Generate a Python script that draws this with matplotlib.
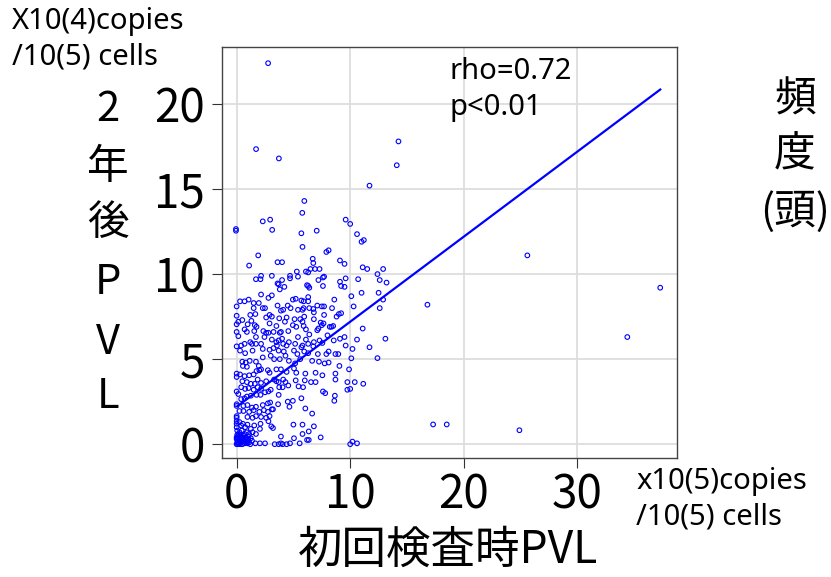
import numpy as np
import matplotlib
matplotlib.use("Agg")
import matplotlib.pyplot as plt

plt.rcParams['font.family'] = ['Noto Sans CJK JP', 'DejaVu Sans']
latin = ['Noto Sans', 'Noto Sans CJK JP']

# 初回検査時PVL (x10^5 copies/10^5 cells) vs 2年後PVL (x10^4 copies/10^5 cells)
pts_outlier = [(2.77, 22.4), (1.71, 17.35), (3.72, 16.8), (14.25, 17.8), (14.1, 16.4),
               (11.7, 15.2), (25.6, 11.1), (37.3, 9.2), (16.8, 8.2), (34.4, 6.3),
               (17.3, 1.16), (18.5, 1.16), (24.9, 0.82), (10.0, 0.0), (10.2, 0.15),
               (10.6, 0.05), (12.4, 5.06), (13.1, 6.2), (11.7, 5.7), (11.1, 6.8),
               (12.6, 8.0), (12.5, 8.9), (12.9, 8.5), (13.2, 9.5), (12.6, 9.65),
               (12.4, 10.0), (12.9, 10.3), (11.1, 10.4), (11.5, 10.3), (11.0, 8.9),
               (10.7, 9.7), (10.3, 8.1), (10.1, 8.7), (10.6, 12.35), (11.0, 11.9),
               (11.2, 12.0), (9.6, 13.2), (10.0, 12.95), (7.05, 12.55), (5.96, 14.3),
               (5.78, 13.6), (5.7, 12.4), (5.8, 11.6), (2.3, 13.1), (2.95, 13.2),
               (3.13, 12.6), (-0.06, 12.65), (-0.06, 12.55)]

pts_y10 = [(1.9, 11.1), (1.1, 10.5), (3.6, 10.7), (4.0, 10.7), (6.7, 10.9), (6.75, 10.65),
           (7.9, 11.3), (8.1, 11.4), (9.1, 10.8), (9.5, 10.6), (6.5, 10.3), (6.9, 10.3),
           (7.3, 10.3), (5.3, 10.15), (6.1, 10.15), (6.3, 10.1), (3.1, 9.9), (4.7, 9.9),
           (5.4, 9.85), (1.7, 9.7), (2.1, 9.7), (2.15, 9.9), (4.0, 9.65), (4.7, 9.75),
           (7.2, 9.65), (7.6, 9.8), (7.7, 9.85), (9.6, 9.75), (6.2, 9.35), (6.3, 9.3),
           (6.4, 9.2), (3.6, 9.45), (3.7, 9.4), (7.6, 9.3), (9.1, 9.55), (9.2, 9.3),
           (9.5, 9.25)]

pts_y8 = [(2.8, 8.6), (2.15, 8.8), (3.1, 8.75), (3.8, 9.1), (4.2, 9.25), (4.95, 8.5),
          (5.2, 8.55), (5.7, 8.45), (5.9, 8.4), (6.3, 8.65), (6.3, 8.4), (8.6, 8.5),
          (0.3, 8.4), (0.7, 8.4), (1.06, 8.5), (0.0, 8.1), (1.5, 8.3), (1.95, 8.3),
          (1.5, 8.0), (2.3, 8.0), (2.5, 8.0), (3.6, 8.15), (4.5, 8.15), (3.9, 7.85),
          (4.1, 7.9), (4.75, 8.0), (5.4, 7.9), (5.8, 7.9), (5.9, 8.0), (6.4, 8.0),
          (6.75, 7.95), (7.1, 8.15), (7.5, 8.1), (7.7, 8.1), (8.4, 8.0), (8.8, 7.5),
          (9.0, 7.65), (9.2, 7.7), (6.8, 7.75), (7.7, 7.6), (1.2, 7.6), (1.65, 7.65),
          (3.75, 7.4), (5.6, 7.35), (5.95, 7.5), (5.8, 7.2), (4.4, 7.45), (5.1, 7.35),
          (2.6, 7.45), (2.9, 7.6), (3.1, 7.5), (0.0, 7.55), (0.5, 7.3)]

pts_y6 = [(0.0, 7.05), (0.15, 7.2), (1.3, 7.25), (0.97, 7.05), (1.6, 7.0), (1.75, 6.9),
          (2.9, 7.1), (3.5, 6.95), (4.25, 7.2), (4.95, 7.0), (5.25, 6.9), (5.9, 6.95),
          (6.1, 6.75), (6.8, 7.35), (7.4, 7.15), (7.65, 7.1), (7.5, 7.0), (8.2, 6.9),
          (8.35, 6.9), (8.5, 6.95), (0.0, 6.6), (0.7, 6.75), (0.9, 6.6), (1.55, 6.65),
          (2.35, 6.65), (2.6, 6.55), (2.8, 6.55), (3.25, 6.6), (3.8, 6.55), (3.9, 6.6),
          (4.55, 6.65), (6.4, 6.45), (7.1, 6.7), (7.2, 6.8), (8.0, 6.4), (0.15, 6.35),
          (1.7, 6.3), (2.45, 6.3), (3.1, 6.15), (3.7, 6.1), (4.0, 6.2), (5.4, 6.3),
          (6.1, 6.15), (6.8, 6.0), (7.3, 6.1), (8.55, 6.1), (9.1, 6.2), (9.5, 6.3),
          (10.6, 6.15), (1.2, 6.0)]

pts_y5 = [(0.0, 5.75), (0.4, 5.8), (0.7, 5.9), (1.35, 5.9), (1.7, 5.9), (2.15, 5.9),
          (3.5, 6.0), (3.55, 5.8), (4.1, 5.9), (4.4, 5.8), (4.6, 6.0), (5.15, 5.9),
          (5.8, 5.8), (6.3, 5.9), (6.75, 5.75), (7.55, 5.95), (9.6, 5.8), (10.2, 5.6),
          (0.3, 5.5), (0.75, 5.35), (1.4, 5.5), (2.3, 5.6), (2.9, 5.55), (3.25, 5.65),
          (3.7, 5.5), (4.15, 5.45), (5.05, 5.5), (5.35, 5.3), (5.7, 5.7), (5.95, 5.45),
          (6.3, 5.35), (7.15, 5.3), (7.9, 5.3), (8.1, 5.45), (8.7, 5.3), (8.95, 5.3),
          (0.5, 4.85), (0.8, 4.8), (1.15, 4.9), (1.7, 4.85), (2.3, 5.1), (3.0, 5.2),
          (3.3, 5.0), (3.8, 5.0), (4.3, 5.2), (4.6, 4.9), (5.15, 4.75), (5.6, 5.0),
          (6.65, 4.9), (7.25, 4.85), (7.75, 4.75), (8.1, 4.8), (10.1, 5.05), (9.05, 4.6),
          (0.55, 4.6), (0.9, 4.55), (1.95, 4.6), (2.15, 4.4)]

pts_y3 = [(0.0, 4.15), (0.0, 3.95), (0.3, 4.1), (0.7, 4.0), (1.1, 4.05), (1.5, 4.1),
          (1.75, 4.3), (2.0, 4.35), (2.75, 4.35), (2.9, 4.2), (3.5, 4.4), (3.9, 4.4),
          (4.4, 4.25), (5.05, 4.45), (5.25, 4.2), (6.05, 4.15), (6.95, 4.2), (7.55, 4.05),
          (8.7, 4.15), (9.9, 4.4), (0.5, 3.7), (0.9, 3.65), (1.25, 3.55), (1.6, 3.55),
          (1.85, 3.8), (2.15, 3.6), (2.6, 3.7), (3.3, 3.8), (3.5, 3.7), (3.7, 3.65),
          (4.1, 3.8), (4.3, 3.65), (4.55, 3.45), (5.2, 3.75), (6.0, 3.75), (6.55, 3.65),
          (6.95, 3.65), (8.7, 3.8), (9.75, 3.65), (10.4, 3.65), (11.15, 3.55), (9.75, 3.2),
          (10.0, 3.25), (0.4, 3.35), (0.75, 3.25), (1.05, 3.3), (1.5, 3.2), (1.85, 3.35),
          (2.15, 3.25), (3.0, 3.2), (3.75, 3.35), (4.05, 3.35), (5.45, 3.4), (5.85, 3.35),
          (7.6, 3.1), (7.8, 3.0), (0.0, 3.1), (0.15, 2.95)]

pts_y2 = [(0.4, 2.65), (0.7, 2.7), (0.9, 2.8), (1.25, 2.85), (1.75, 2.9), (2.1, 2.9),
          (2.5, 3.05), (2.8, 3.1), (3.7, 2.9), (4.5, 2.5), (4.95, 2.55), (5.7, 2.7),
          (8.65, 2.85), (8.6, 2.55), (0.6, 2.25), (0.95, 2.3), (1.35, 2.15), (1.7, 2.2),
          (2.3, 2.3), (2.75, 2.4), (2.95, 2.45), (3.2, 2.05), (3.65, 2.35), (4.65, 2.2),
          (6.05, 2.1), (6.65, 1.8), (0.0, 2.35), (0.0, 2.25), (0.25, 1.95), (0.6, 1.95),
          (1.1, 1.9), (1.5, 2.0), (2.0, 1.9), (2.4, 2.0), (2.75, 1.9), (3.1, 2.05),
          (2.15, 1.6), (2.6, 1.55), (2.9, 1.65), (2.8, 1.35), (0.95, 1.6), (1.4, 1.55),
          (1.7, 1.65), (0.0, 1.65), (0.0, 1.55)]

pts_y1 = [(0.0, 1.35), (0.0, 1.2), (0.0, 1.0), (0.25, 1.3), (0.4, 1.1), (0.55, 1.2),
          (0.75, 1.0), (0.95, 1.15), (1.25, 0.9), (1.55, 1.1), (2.1, 1.2), (2.05, 0.9),
          (3.05, 1.05), (3.2, 0.95), (5.0, 1.15), (5.8, 1.15), (6.8, 1.05), (6.35, 0.75),
          (5.8, 0.6), (7.4, 0.4), (3.9, 0.45), (5.05, 0.35), (6.2, 0.25), (6.35, 0.25),
          (0.05, 0.8), (0.25, 0.7), (0.45, 0.8), (0.7, 0.6), (0.9, 0.7), (1.1, 0.6),
          (1.4, 0.7), (1.7, 0.6), (0.15, 0.5), (0.4, 0.45), (0.6, 0.5), (0.8, 0.4),
          (1.25, 0.35)]

pts_y0 = [(0.0, 0.3), (0.1, 0.25), (0.25, 0.2), (0.4, 0.1), (0.55, 0.15), (0.7, 0.05),
          (0.85, 0.1), (0.95, 0.05), (0.05, 0.1), (0.15, 0.05), (0.3, 0.0), (0.45, 0.25),
          (0.0, 0.4), (0.75, 0.3), (0.9, 0.25), (1.1, 0.1), (1.2, 0.0), (1.35, 0.2),
          (0.25, 0.35), (0.45, 0.35), (0.0, 0.0), (0.1, 0.0), (0.2, 0.1), (0.35, 0.15),
          (0.5, 0.0), (0.6, 0.3), (0.65, 0.2), (0.8, 0.15), (0.05, 0.55), (0.2, 0.6),
          (0.35, 0.55), (0.1, 0.4), (0.3, 0.45), (0.55, 0.4), (1.0, 0.3), (1.05, 0.45),
          (1.65, 0.05), (2.05, 0.05), (2.5, 0.05), (3.35, 0.0), (3.7, 0.0), (3.9, 0.05),
          (4.05, 0.0), (4.4, 0.0), (4.7, 0.05), (5.55, 0.05)]

# 回帰直線 y = a + b*x
fit_intercept = 2.2
fit_slope = 0.5
fit_x = [0.1, 37.3]

xticks = [0, 10, 20, 30]
yticks = [0, 5, 10, 15, 20]

pts = np.array(pts_outlier + pts_y10 + pts_y8 + pts_y6 + pts_y5 +
               pts_y3 + pts_y2 + pts_y1 + pts_y0)

fig = plt.figure(figsize=(8.31, 5.77), dpi=100)
ax = fig.add_axes([0.267, 0.206, 0.548, 0.7125])

ax.scatter(pts[:, 0], pts[:, 1], s=11, facecolors='none', edgecolors='#0000ff',
           linewidths=0.8, zorder=3)
fx = np.array(fit_x)
ax.plot(fx, fit_intercept + fit_slope * fx, color='#0000ff', lw=1.6, zorder=4)

ax.set_xlim(-1.3, 38.8)
ax.set_ylim(-0.82, 23.35)
ax.set_xticks(xticks)
ax.set_yticks(yticks)
ax.tick_params(labelsize=33, length=7, width=0.8, color='#333333')
ax.tick_params(axis='y', pad=5)
ax.tick_params(axis='x', pad=2)
ax.grid(True, color='#dddddd', lw=1.3)
ax.set_axisbelow(True)
for s in ax.spines.values():
    s.set_color('#444444')
    s.set_linewidth(1.0)

ax.text(0.5, 0.975, "rho=0.72\np<0.01", transform=ax.transAxes, fontsize=21,
        family=latin, va='top', ha='left', linespacing=1.3)

# 縦書きの軸ラベル
for ch, yy in zip(["2", "年", "後", "P", "V", "L"], [110, 168, 223, 282, 342, 397]):
    fig.text(108 / 831, 1 - yy / 577, ch, fontsize=30, ha='center', va='center')
for ch, yy in zip(["頻", "度", "(頭)"], [100, 155, 212]):
    fig.text(795 / 831, 1 - yy / 577, ch, fontsize=30, ha='center', va='center')

fig.text(448 / 831, 1 - 550 / 577, "初回検査時PVL", fontsize=32, ha='center', va='center')
fig.text(12 / 831, 1 - 7 / 577, "X10(4)copies\n/10(5) cells", fontsize=21,
         family=latin, ha='left', va='top', linespacing=1.3)
fig.text(636 / 831, 1 - 467 / 577, "x10(5)copies\n/10(5) cells", fontsize=21,
         family=latin, ha='left', va='top', linespacing=1.3)

fig.savefig("out.png", dpi=100)
